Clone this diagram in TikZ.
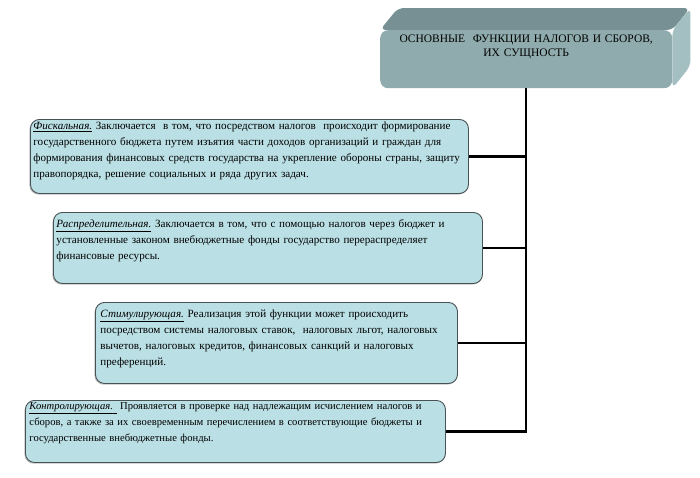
\documentclass[tikz,border=0pt]{standalone}
\usepackage{fontspec}
\setmainfont{Liberation Serif}
\usetikzlibrary{shadows,backgrounds}
\definecolor{boxfill}{RGB}{186,223,228}
\definecolor{boxline}{RGB}{72,82,84}
\definecolor{titlefront}{RGB}{143,171,173}
\definecolor{titletop}{RGB}{118,144,148}
\definecolor{titleside}{RGB}{163,191,193}
\tikzset{
  funcbox/.style={draw=boxline, fill=boxfill, line width=0.9pt, rounded corners=9pt,
    anchor=north west, align=left, inner xsep=3pt, inner ysep=0pt,
    font=\fontsize{11.1}{16}\selectfont,
    drop shadow={shadow xshift=-1pt, shadow yshift=-1.2pt, opacity=0.5, fill=gray}},
  titlebox/.style={fill=titlefront, rounded corners=8pt, anchor=north west, align=center,
    inner sep=0pt, text width=292pt, font=\fontsize{11.5}{14}\selectfont},
  link/.style={line width=2.3pt, black},
}
\begin{document}
\begin{tikzpicture}[x=1pt, y=-1pt]
    \useasboundingbox (0,0) rectangle (700,477);
    % Заголовок в виде объёмного блока.
    \node[titlebox, text height=12pt, text depth=46pt] (title) at (380,30)
        {ОСНОВНЫЕ\ \ ФУНКЦИИ НАЛОГОВ И СБОРОВ,\\ ИХ СУЩНОСТЬ};
    \begin{scope}[on background layer]
        \fill[titletop, rounded corners=6pt] (title.north west) -- ++(18,-22) -- ++(292,0)
            -- (title.north east) -- cycle;
        \fill[titleside, rounded corners=6pt] (title.north east) -- ++(18,-22) -- ++(0,58)
            -- (title.south east) -- cycle;
    \end{scope}
    \node[funcbox, text width=432pt, text height=10pt, text depth=64pt] (fisk) at (30,119)
        {\underline{\textit{Фискальная.}} Заключается\ \ в том, что посредством налогов\ \ происходит формирование\\
        государственного бюджета путем изъятия части доходов организаций и граждан для\\
        формирования финансовых средств государства на укрепление обороны страны, защиту\\
        правопорядка, решение социальных и ряда других задач.};
    \node[funcbox, text width=423pt, text height=15pt, text depth=56pt] (raspr) at (53,212)
        {\underline{\textit{Распределительная.}} Заключается в том, что с помощью налогов через бюджет и\\
        установленные законом внебюджетные фонды государство перераспределяет\\
        финансовые ресурсы.};
    \node[funcbox, inner xsep=5pt, text width=352pt, text height=15pt, text depth=66pt] (stim) at (95,302)
        {\underline{\textit{Стимулирующая.}} Реализация этой функции может происходить\\
        посредством системы налоговых ставок,\ \ налоговых льгот, налоговых\\
        вычетов, налоговых кредитов, финансовых санкций и налоговых\\
        преференций.};
    \node[funcbox, inner xsep=4pt, text width=412pt, text height=9pt, text depth=53pt,
        font=\fontsize{10.6}{16}\selectfont] (kontr) at (25,400)
        {\underline{\textit{Контролирующая.}\ } Проявляется в проверке над надлежащим исчислением налогов и\\
        сборов, а также за их своевременным перечислением в соответствующие бюджеты и\\
        государственные внебюджетные фонды.};
    \draw[link] (title.south) |- (kontr.east);
    \draw[link] (fisk.east) -- (fisk.east -| title.south);
    \draw[link] (raspr.east) -- (raspr.east -| title.south);
    \draw[link] (stim.east) -- (stim.east -| title.south);
\end{tikzpicture}
\end{document}
